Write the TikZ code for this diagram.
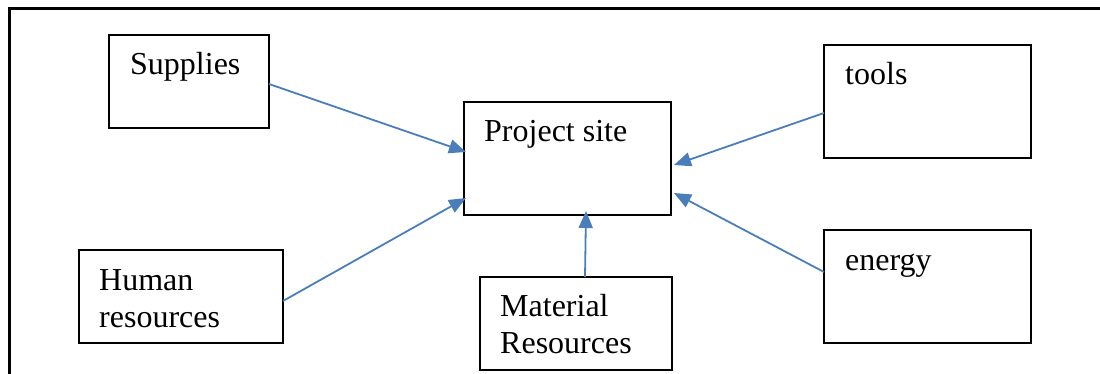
\documentclass[tikz,border=0pt]{standalone}
\usepackage{fontspec}
\setmainfont{Liberation Serif}
\usetikzlibrary{arrows.meta}
\definecolor{arrowblue}{HTML}{4A7EBB}
\tikzset{
  box/.style={draw=black, line width=1.2pt, fill=none},
  lbl/.style={anchor=base west, inner sep=0pt, font=\fontsize{32}{37}\selectfont, align=left},
  feed/.style={draw=arrowblue, line width=1.8pt, -{Triangle[length=17pt,width=14pt]}},
  frame/.style={line width=3pt, black}
}
\begin{document}
\begin{tikzpicture}[x=1pt,y=-1pt]
\useasboundingbox (0,0) rectangle (1100,374);
% outer frame (top and left only)
\draw[frame] (9,9) -- (1100,9);
\draw[frame] (9,7.5) -- (9,374);
% boxes
\draw[box] (109,35) rectangle (269,128);
\draw[box] (464,102) rectangle (671,215);
\draw[box] (824,45) rectangle (1031,158);
\draw[box] (79,250) rectangle (283,343);
\draw[box] (480,277) rectangle (672,370);
\draw[box] (824,230) rectangle (1031,343);
% labels
\node[lbl] (tsup) at (130,75) {Supplies};
\node[lbl] (tproj) at (484,142) {Project site};
\node[lbl] (ttools) at (845,85) {tools};
\node[lbl] (thum) at (99,327) {Human\\resources};
\node[lbl] (tmat) at (500,353) {Material\\Resources};
\node[lbl] (tene) at (845,270) {energy};
% connector end points
\coordinate (supS) at (269,84);
\coordinate (supE) at (466,152);
\coordinate (humS) at (283,301);
\coordinate (humE) at (466,198);
\coordinate (matS) at (585,277);
\coordinate (matE) at (586,211);
\coordinate (tooS) at (824,113);
\coordinate (tooE) at (674,165);
\coordinate (eneS) at (824,272);
\coordinate (eneE) at (674,193);
% connectors
\draw[feed] (supS) -- (supE);
\draw[feed] (humS) -- (humE);
\draw[feed] (matS) -- (matE);
\draw[feed] (tooS) -- (tooE);
\draw[feed] (eneS) -- (eneE);
\end{tikzpicture}
\end{document}
